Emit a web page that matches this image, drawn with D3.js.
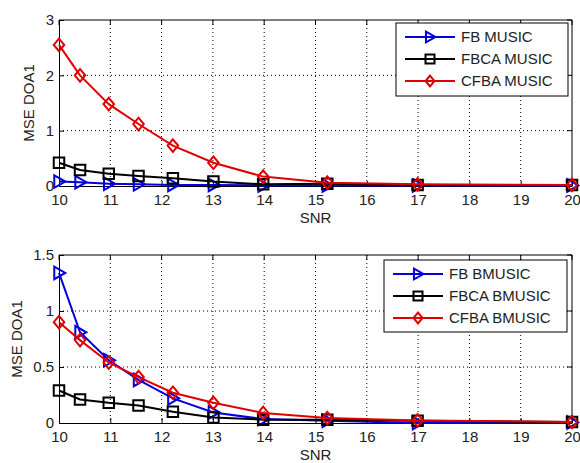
<!DOCTYPE html>
<html>
<head>
<meta charset="utf-8">
<script src="https://cdn.jsdelivr.net/npm/d3@7"></script>
<style>
  body { margin: 0; background: #fff; }
  svg { display: block; font-family: "Liberation Sans", Arial, sans-serif; }
</style>
</head>
<body>
<div id="chart"></div>
<script>
// SNR values (dB) shared by both panels
const snr = [10, 10.41, 10.97, 11.55, 12.22, 13.01, 13.98, 15.23, 16.99, 20];
const xTicks = [10, 11, 12, 13, 14, 15, 16, 17, 18, 19, 20];

// top panel: MUSIC
const fbMusic   = [0.08, 0.07, 0.04, 0.03, 0.02, 0.02, 0.01, 0.01, 0.01, 0.01];
const fbcaMusic = [0.42, 0.29, 0.22, 0.18, 0.14, 0.08, 0.03, 0.04, 0.02, 0.02];
const cfbaMusic = [2.55, 2.00, 1.48, 1.12, 0.73, 0.42, 0.17, 0.06, 0.03, 0.02];
const topTicks = [0, 1, 2, 3];

// bottom panel: BMUSIC
const fbBmusic   = [1.34, 0.81, 0.56, 0.385, 0.22, 0.094, 0.035, 0.02, 0.0, 0.005];
const fbcaBmusic = [0.29, 0.21, 0.18, 0.156, 0.10, 0.05, 0.03, 0.03, 0.02, 0.01];
const cfbaBmusic = [0.90, 0.74, 0.54, 0.41, 0.27, 0.18, 0.09, 0.044, 0.023, 0.01];
const bottomTicks = [0, 0.5, 1, 1.5];

const W = 580, H = 463;
const FONT = 15;
const svg = d3.select("#chart").append("svg").attr("width", W).attr("height", H);

// marker shapes
function markerPath(kind, s) {
    if (kind === "tri") return `M${-s * 0.45},${-s * 0.6}L${s * 0.6},0L${-s * 0.45},${s * 0.6}Z`;
    if (kind === "sq") return `M${-s * 0.5},${-s * 0.5}h${s}v${s}h${-s}Z`;
    return `M0,${-s * 0.6}L${s * 0.5},0L0,${s * 0.6}L${-s * 0.5},0Z`;
}

function drawPanel(cfg) {
    const { top, bottom, yMax, yTicks, series, labels, legendBox, yLabelX } = cfg;
    const left = 59, right = 572;
    const x = d3.scaleLinear().domain([10, 20]).range([left, right]);
    const y = d3.scaleLinear().domain([0, yMax]).range([bottom, top]);
    const g = svg.append("g");

    // grid
    g.append("g").selectAll("line").data(xTicks.slice(1, -1)).join("line")
        .attr("x1", d => x(d)).attr("x2", d => x(d)).attr("y1", top).attr("y2", bottom)
        .attr("stroke", "#000").attr("stroke-width", 1).attr("stroke-dasharray", "1,3");
    g.append("g").selectAll("line").data(yTicks.slice(1, -1)).join("line")
        .attr("x1", left).attr("x2", right).attr("y1", d => y(d)).attr("y2", d => y(d))
        .attr("stroke", "#000").attr("stroke-width", 1).attr("stroke-dasharray", "1,3");

    // axes
    const ax = g.append("g").attr("transform", `translate(0,${bottom})`)
        .call(d3.axisBottom(x).tickValues(xTicks).tickFormat(d3.format("d")).tickSizeInner(-5).tickSizeOuter(0).tickPadding(8));
    const ay = g.append("g").attr("transform", `translate(${left},0)`)
        .call(d3.axisLeft(y).tickValues(yTicks).tickFormat(d => d).tickSizeInner(-5).tickSizeOuter(0).tickPadding(5));
    [ax, ay].forEach(a => {
        a.select(".domain").attr("stroke", "#000");
        a.selectAll(".tick line").attr("stroke", "#000");
        a.selectAll("text").attr("font-size", FONT).attr("font-family", "Liberation Sans, Arial, sans-serif").attr("fill", "#222");
    });
    // box top and right
    g.append("path").attr("d", `M${left},${top}H${right}V${bottom}`).attr("fill", "none").attr("stroke", "#000");
    // top/right ticks
    g.append("g").selectAll("line").data(xTicks).join("line")
        .attr("x1", d => x(d)).attr("x2", d => x(d)).attr("y1", top).attr("y2", top + 5).attr("stroke", "#000");
    g.append("g").selectAll("line").data(yTicks).join("line")
        .attr("x1", right - 5).attr("x2", right).attr("y1", d => y(d)).attr("y2", d => y(d)).attr("stroke", "#000");

    // axis labels
    g.append("text").attr("x", x(15)).attr("y", bottom + 37).attr("text-anchor", "middle")
        .attr("font-size", FONT).attr("fill", "#222").text("SNR");
    g.append("text").attr("transform", `translate(${yLabelX},${(top + bottom) / 2}) rotate(-90)`)
        .attr("text-anchor", "middle").attr("font-size", FONT).attr("fill", "#222").text("MSE DOA1");

    // series: draw red last (on top)
    series.forEach(s => {
        const pts = snr.map((v, i) => [v, s.values[i]]);
        g.append("path").datum(pts)
            .attr("fill", "none").attr("stroke", s.color).attr("stroke-width", 2)
            .attr("d", d3.line().x(d => x(d[0])).y(d => y(d[1])));
        g.append("g").selectAll("path").data(pts).join("path")
            .attr("transform", d => `translate(${x(d[0])},${y(d[1])})`)
            .attr("d", markerPath(s.marker, 10.5))
            .attr("fill", "none").attr("stroke", s.color).attr("stroke-width", 2);
    });

    // legend
    const [lx, ly, lw, lh] = legendBox;
    const lg = g.append("g");
    lg.append("rect").attr("x", lx).attr("y", ly).attr("width", lw).attr("height", lh)
        .attr("fill", "#fff").attr("stroke", "#000");
    series.forEach((s, i) => {
        const ry = ly + 14 + i * 22;
        lg.append("line").attr("x1", lx + 9).attr("x2", lx + 59).attr("y1", ry).attr("y2", ry)
            .attr("stroke", s.color).attr("stroke-width", 2);
        lg.append("path").attr("transform", `translate(${lx + 34},${ry})`)
            .attr("d", markerPath(s.marker, 9)).attr("fill", "none")
            .attr("stroke", s.color).attr("stroke-width", 2);
        lg.append("text").attr("x", lx + 65).attr("y", ry + 5).attr("font-size", FONT)
            .attr("fill", "#222").text(labels[i]);
    });
}

drawPanel({
    top: 20, bottom: 186, yMax: 3, yTicks: topTicks, yLabelX: 34,
    series: [
        { values: fbMusic, color: "#0000e0", marker: "tri" },
        { values: fbcaMusic, color: "#000", marker: "sq" },
        { values: cfbaMusic, color: "#e00000", marker: "dia" }
    ],
    labels: ["FB MUSIC", "FBCA MUSIC", "CFBA MUSIC"],
    legendBox: [396, 23, 172, 73]
});

drawPanel({
    top: 255, bottom: 423, yMax: 1.5, yTicks: bottomTicks, yLabelX: 22,
    series: [
        { values: fbBmusic, color: "#0000e0", marker: "tri" },
        { values: fbcaBmusic, color: "#000", marker: "sq" },
        { values: cfbaBmusic, color: "#e00000", marker: "dia" }
    ],
    labels: ["FB BMUSIC", "FBCA BMUSIC", "CFBA BMUSIC"],
    legendBox: [384, 260, 183, 72]
});
</script>
</body>
</html>
